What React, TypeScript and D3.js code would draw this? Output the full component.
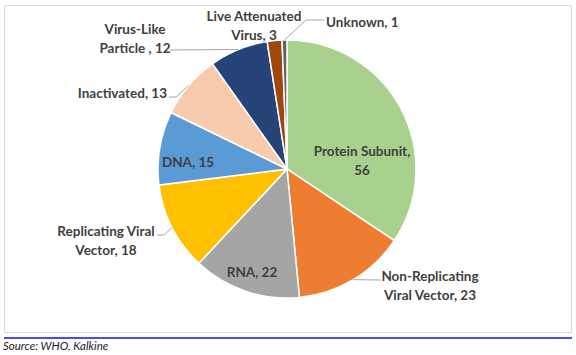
import React from "react";
import * as d3 from "d3";

const categories = [
  "Protein Subunit",
  "Non-Replicating Viral Vector",
  "RNA",
  "Replicating Viral Vector",
  "DNA",
  "Inactivated",
  "Virus-Like Particle",
  "Live Attenuated Virus",
  "Unknown",
];
const values = [56, 23, 22, 18, 15, 13, 12, 3, 1];
const labelLines = [
  ["Protein Subunit,", "56"],
  ["Non-Replicating", "Viral Vector, 23"],
  ["RNA, 22"],
  ["Replicating Viral", "Vector, 18"],
  ["DNA, 15"],
  ["Inactivated, 13"],
  ["Virus-Like", "Particle , 12"],
  ["Live Attenuated", "Virus, 3"],
  ["Unknown, 1"],
];
const colors = [
  "#A9D18E",
  "#ED7D31",
  "#A5A5A5",
  "#FFC000",
  "#5B9BD5",
  "#F8CBAD",
  "#264478",
  "#9E480E",
  "#636363",
];
const sourceText = "Source: WHO, Kalkine";

// layout (label anchors, text-anchor, leader elbows)
const layout: Record<string, { x: number; y: number; anchor: string; elbow?: [number, number][] }> = {
  "Protein Subunit": { x: 362, y: 151, anchor: "middle" },
  "Non-Replicating Viral Vector": { x: 430, y: 276, anchor: "middle", elbow: [[381, 280]] },
  RNA: { x: 252, y: 272, anchor: "middle" },
  "Replicating Viral Vector": { x: 106, y: 231, anchor: "middle", elbow: [[157, 235], [164, 235]] },
  DNA: { x: 188, y: 162, anchor: "middle" },
  Inactivated: { x: 167, y: 93, anchor: "end", elbow: [[169, 97], [176, 97]] },
  "Virus-Like Particle": { x: 135, y: 29, anchor: "middle", elbow: [[170, 50]] },
  "Live Attenuated Virus": { x: 254, y: 16, anchor: "middle" },
  Unknown: { x: 326, y: 22, anchor: "start", elbow: [[324, 20], [306, 20]] },
};

const W = 576;
const H = 355;
const cx = 287;
const cy = 169;
const R = 129;

export default function App() {
  const data = categories.map((c, i) => ({ c, v: values[i], i }));
  const pie = d3.pie<any>().value((d) => d.v).sort(null);
  const arcs = pie(data);
  const arc = d3.arc<any>().innerRadius(0).outerRadius(R);
  const font = "Lato, 'Open Sans', sans-serif";

  return (
    <svg
      width={W}
      height={H}
      style={{ position: "absolute", left: 0, top: 0, background: "#fff" }}
    >
      <rect x={4.5} y={5.5} width={567} height={327} fill="#fff" stroke="#D9D9D9" strokeWidth={1} />
      <g transform={`translate(${cx},${cy})`}>
        {arcs.map((a, i) => (
          <path key={i} d={arc(a) as string} fill={colors[i]} stroke="#fff" strokeWidth={1.5} />
        ))}
      </g>
      {arcs.map((a, i) => {
        const L = layout[categories[i]];
        if (!L.elbow) return null;
        const mid = (a.startAngle + a.endAngle) / 2;
        const px = cx + R * Math.sin(mid);
        const py = cy - R * Math.cos(mid);
        const pts: [number, number][] = [...L.elbow, [px, py]];
        const line = d3.line();
        return (
          <path key={"l" + i} d={line(pts) as string} fill="none" stroke="#A6A6A6" strokeWidth={1} />
        );
      })}
      {arcs.map((a, i) => {
        const L = layout[categories[i]];
        return (
          <text
            key={"t" + i}
            x={L.x}
            y={L.y}
            textAnchor={L.anchor as any}
            dominantBaseline="central"
            fontFamily={font}
            fontWeight={700}
            fontSize={13.5}
            fill="#404040"
          >
            {labelLines[i].map((ln, j) => (
              <tspan key={j} x={L.x} dy={j === 0 ? 0 : 18.5}>
                {ln}
              </tspan>
            ))}
          </text>
        );
      })}
      <line x1={4} x2={572} y1={338} y2={338} stroke="#4B4BF5" strokeWidth={2} />
      <text x={3} y={350} fontFamily={font} fontStyle="italic" fontSize={11.5} fill="#1a1a1a">
        {sourceText}
      </text>
    </svg>
  );
}
